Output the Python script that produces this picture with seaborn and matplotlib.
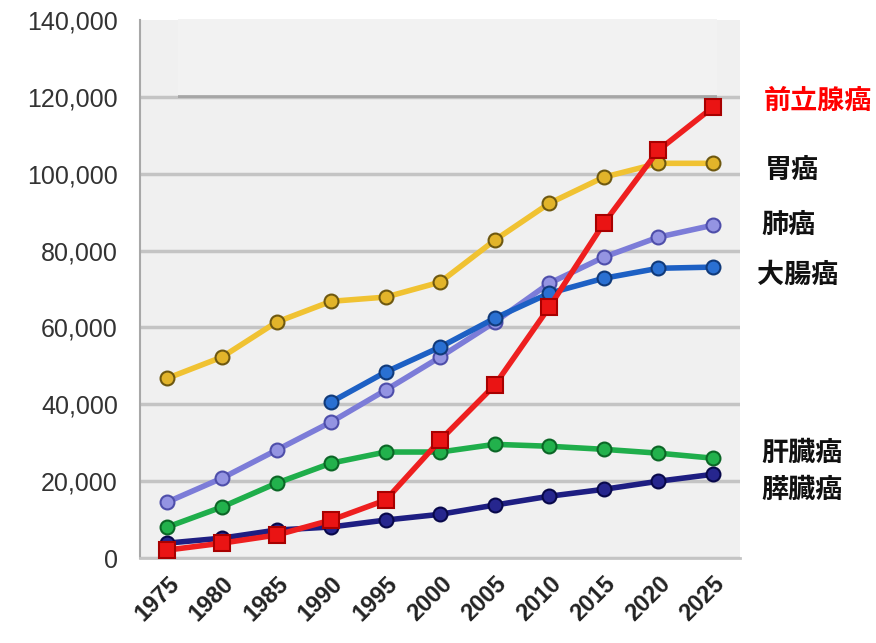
import numpy as np
import pandas as pd
import matplotlib
matplotlib.use('Agg')
import matplotlib.pyplot as plt
import seaborn as sns
from matplotlib.patches import Rectangle

# data
years = ['1975', '1980', '1985', '1990', '1995', '2000', '2005', '2010', '2015', '2020', '2025']
stomach = [46800, 52300, 61400, 66800, 67900, 71800, 82700, 92300, 99100, 102700, 102700]
lung = [14600, 20800, 28100, 35400, 43700, 52300, 61400, 71500, 78300, 83500, 86600]
colorectal = [np.nan, np.nan, np.nan, 40600, 48400, 54900, 62400, 68900, 72800, 75400, 75700]
liver = [8100, 13300, 19500, 24700, 27600, 27600, 29600, 29100, 28300, 27300, 26000]
pancreas = [3900, 5200, 7300, 8100, 9900, 11400, 13800, 16100, 17900, 20000, 21800]
prostate = [2100, 3900, 6000, 9900, 15100, 30700, 45000, 65300, 87100, 106100, 117300]

names = ['前立腺癌', '胃癌', '肺癌', '大腸癌', '肝臓癌', '膵臓癌']

sns.set_theme(style='white')
plt.rcParams['font.family'] = ['Liberation Sans', 'DejaVu Sans']

fig = plt.figure(figsize=(8.76, 6.43), dpi=100)
ax = fig.add_axes([0.16, 0.132, 0.685, 0.837])
ax.set_facecolor('#f0f0f0')

x = np.arange(len(years))

# (values, line colour, marker, face, edge)
series = [
    (stomach, '#f0c232', 'o', '#e2b42a', '#6e5810'),
    (lung, '#7c7cd8', 'o', '#9494e2', '#4e4eaa'),
    (colorectal, '#1d60c4', 'o', '#2a70d2', '#103a7a'),
    (liver, '#1fae4b', 'o', '#22b14c', '#0b6626'),
    (pancreas, '#1e1e82', 'o', '#26268e', '#08084a'),
    (prostate, '#ee1f1f', 's', '#ea1414', '#a80000'),
]

for vals, lc, mk, fc, ec in series:
    df = pd.DataFrame({'x': x, 'y': vals}).dropna()
    sns.lineplot(data=df, x='x', y='y', ax=ax, color=lc, lw=4,
                 marker=mk, markersize=10 if mk == 'o' else 11,
                 markerfacecolor=fc, markeredgecolor=ec, markeredgewidth=1.5,
                 zorder=3)

ax.set_xlim(-0.5, len(years) - 0.5)
ax.set_ylim(0, 140000)
ax.set_xlabel('')
ax.set_ylabel('')

ax.set_yticks(np.arange(0, 140001, 20000))
ax.set_yticklabels([f'{v:,}' for v in range(0, 140001, 20000)],
                   fontsize=18, color='#333333')
ax.set_xticks(x)
ax.set_xticklabels(years, rotation=45, ha='right', va='top',
                   rotation_mode='anchor', fontsize=17, fontweight='bold',
                   color='#222222')
ax.set_xticks(np.arange(-0.5, len(years)), minor=True)
ax.tick_params(axis='x', which='major', length=0, pad=10)
ax.tick_params(axis='x', which='minor', length=6, width=1.2, color='#b0b0b0')
ax.tick_params(axis='y', length=8, width=2.5, color='#c4c4c4', pad=8)

ax.yaxis.grid(True, color='#c4c4c4', lw=2.5, zorder=0)
ax.set_axisbelow(True)
ax.yaxis.get_gridlines()[-1].set_visible(False)

for s in ['top', 'right']:
    ax.spines[s].set_visible(False)
ax.spines['left'].set_color('#a8a8a8')
ax.spines['left'].set_linewidth(1.5)
ax.spines['bottom'].set_color('#c4c4c4')
ax.spines['bottom'].set_linewidth(2)

# grey box over the top of the plot, with a soft shadow underneath
fig.patches.append(Rectangle((0.203, 0.847), 0.616, 0.010, transform=fig.transFigure,
                             facecolor='#9a9a9a', edgecolor='none', zorder=5, alpha=0.7))
fig.patches.append(Rectangle((0.203, 0.853), 0.616, 0.118, transform=fig.transFigure,
                             facecolor='#f2f2f2', edgecolor='none', zorder=6))

# series labels at the right
label_pos = [(0.872, 0.843), (0.873, 0.735), (0.869, 0.650), (0.864, 0.572),
             (0.869, 0.295), (0.869, 0.238)]
for name, (lx, ly) in zip(names, label_pos):
    fig.text(lx, ly, name, fontsize=19.5, fontweight='bold',
             family=['Noto Sans CJK JP', 'DejaVu Sans'],
             color='#ff0000' if name == '前立腺癌' else '#111111',
             va='center', ha='left')

plt.savefig('out.png', dpi=100)
plt.close()
